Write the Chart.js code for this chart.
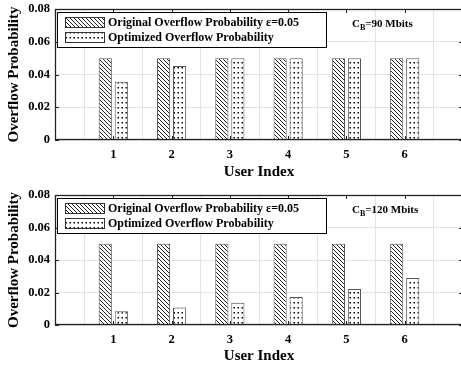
<!DOCTYPE html>
<html>
<head>
<meta charset="utf-8">
<script src="https://cdn.jsdelivr.net/npm/chart.js@4/dist/chart.umd.min.js"></script>
<style>
  html, body { margin: 0; padding: 0; background: #fff; overflow: hidden; }
  canvas { position: absolute; left: 0; }
  #top { top: 0; }
  #bottom { top: 180px; }
</style>
</head>
<body>
<canvas id="top" width="463" height="180"></canvas>
<canvas id="bottom" width="463" height="186"></canvas>
<script>
  // user index labels, blank ones pad the axis on both sides
  const users = ['', '1', '2', '3', '4', '5', '6', ''];
  const yTicks = [0, 0.02, 0.04, 0.06, 0.08];

  const original90 = [null, 0.05, 0.05, 0.05, 0.05, 0.05, 0.05, null];
  const optimized90 = [null, 0.0355, 0.0452, 0.05, 0.05, 0.05, 0.05, null];

  const original120 = [null, 0.05, 0.05, 0.05, 0.05, 0.05, 0.05, null];
  const optimized120 = [null, 0.0085, 0.0107, 0.0137, 0.0172, 0.0222, 0.029, null];

  const serif = "'Liberation Serif', 'Times New Roman', serif";

  function hatchPattern() {
    const c = document.createElement('canvas');
    c.width = 4; c.height = 4;
    const g = c.getContext('2d');
    g.fillStyle = '#fff';
    g.fillRect(0, 0, 4, 4);
    g.strokeStyle = '#222';
    g.lineWidth = 1;
    g.beginPath();
    g.moveTo(-1, -1); g.lineTo(5, 5);
    g.moveTo(-1, 3); g.lineTo(1, 5);
    g.moveTo(3, -1); g.lineTo(5, 1);
    g.stroke();
    return g.createPattern(c, 'repeat');
  }

  function dotPattern() {
    const c = document.createElement('canvas');
    c.width = 4; c.height = 5;
    const g = c.getContext('2d');
    g.fillStyle = '#fff';
    g.fillRect(0, 0, 4, 5);
    g.fillStyle = '#000';
    g.fillRect(1.5, 2, 1.5, 1.5);
    return g.createPattern(c, 'repeat');
  }

  const hatch = hatchPattern();
  const dots = dotPattern();

  // box, inward tick marks, legend and capacity note
  const framePlugin = {
    id: 'frame',
    afterDatasetsDraw(chart, args, opts) {
      const ctx = chart.ctx;
      const a = chart.chartArea;
      const xs = chart.scales.x, ys = chart.scales.y;
      ctx.save();
      ctx.strokeStyle = '#222';
      ctx.lineWidth = 1;
      ctx.beginPath();
      xs.ticks.forEach((t, i) => {
        const px = Math.round(xs.getPixelForTick(i)) + 0.5;
        ctx.moveTo(px, a.bottom); ctx.lineTo(px, a.bottom - 4);
        ctx.moveTo(px, a.top); ctx.lineTo(px, a.top + 4);
      });
      ys.ticks.forEach((t, i) => {
        const py = Math.round(ys.getPixelForTick(i)) + 0.5;
        ctx.moveTo(a.left, py); ctx.lineTo(a.left + 4, py);
        ctx.moveTo(a.right, py); ctx.lineTo(a.right - 4, py);
      });
      ctx.stroke();
      ctx.lineWidth = 1.3;
      ctx.strokeRect(a.left + 0.5, a.top + 0.5, a.right - a.left - 1, a.bottom - a.top - 1);

      // legend box
      const lx = a.left + 2, ly = a.top + 3;
      ctx.fillStyle = '#fff';
      ctx.fillRect(lx, ly, 269, 35);
      ctx.lineWidth = 1;
      ctx.strokeStyle = '#000';
      ctx.strokeRect(lx + 0.5, ly + 0.5, 269, 35);
      const items = [
        { text: 'Original Overflow Probability \u03b5=0.05', fill: hatch },
        { text: 'Optimized Overflow Probability', fill: dots }
      ];
      ctx.font = 'bold 12px ' + serif;
      ctx.textBaseline = 'middle';
      items.forEach((it, i) => {
        const y = ly + 5 + i * 15;
        ctx.fillStyle = it.fill;
        ctx.fillRect(lx + 8, y, 39, 10);
        ctx.strokeStyle = '#333';
        ctx.strokeRect(lx + 8.5, y + 0.5, 39, 10);
        ctx.fillStyle = '#000';
        ctx.fillText(it.text, lx + 51, y + 5.5);
      });

      // C_B note
      const nx = 352, ny = a.top + 15;
      ctx.font = 'bold 11px ' + serif;
      ctx.fillText('C', nx, ny);
      const cw = ctx.measureText('C').width;
      ctx.font = 'bold 8px ' + serif;
      ctx.fillText('B', nx + cw, ny + 4);
      const bw = ctx.measureText('B').width;
      ctx.font = 'bold 11px ' + serif;
      ctx.fillText(opts.note, nx + cw + bw, ny);
      ctx.restore();
    }
  };

  function makeChart(id, original, optimized, note, plotTop, axisHeight, titlePad) {
    const ctx = document.getElementById(id).getContext('2d');
    return new Chart(ctx, {
      type: 'bar',
      data: {
        labels: users,
        datasets: [
          {
            label: 'Original Overflow Probability \u03b5=0.05',
            data: original,
            backgroundColor: hatch,
            borderColor: '#555',
            borderWidth: 1,
            categoryPercentage: 0.55,
            barPercentage: 0.82
          },
          {
            label: 'Optimized Overflow Probability',
            data: optimized,
            backgroundColor: dots,
            borderColor: '#555',
            borderWidth: 1,
            categoryPercentage: 0.55,
            barPercentage: 0.82
          }
        ]
      },
      options: {
        responsive: false,
        animation: false,
        devicePixelRatio: 1,
        layout: { padding: { top: plotTop, left: 0, right: 0, bottom: 0 } },
        plugins: {
          legend: { display: false },
          tooltip: { enabled: false },
          frame: { note: note }
        },
        scales: {
          x: {
            offset: false,
            afterFit: s => {
              s.height = axisHeight;
              s.paddingLeft = 0; s.paddingRight = 0;
            },
            grid: { color: '#e4e4e4', drawTicks: false },
            border: { display: false },
            ticks: {
              color: '#000',
              padding: 7,
              maxRotation: 0,
              autoSkip: false,
              font: { family: serif, size: 12.5, weight: 'bold' }
            },
            title: {
              display: true,
              text: 'User Index',
              color: '#000',
              padding: { top: 0, bottom: titlePad },
              font: { family: serif, size: 15, weight: 'bold', lineHeight: 1.1 }
            }
          },
          y: {
            min: 0,
            max: 0.08,
            afterFit: s => {
              s.width = 55;
              s.paddingTop = 0; s.paddingBottom = 0;
            },
            afterBuildTicks: s => { s.ticks = yTicks.map(v => ({ value: v })); },
            grid: { color: '#e4e4e4', drawTicks: false },
            border: { display: false },
            ticks: {
              color: '#000',
              padding: 5,
              font: { family: serif, size: 12.5, weight: 'bold' },
              callback: v => v === 0 ? '0' : v.toFixed(2)
            },
            title: {
              display: true,
              text: 'Overflow Probability',
              color: '#000',
              padding: { top: 6, bottom: 0 },
              font: { family: serif, size: 15, weight: 'bold', lineHeight: 1.1 }
            }
          }
        }
      },
      plugins: [framePlugin]
    });
  }

  makeChart('top', original90, optimized90, '=90 Mbits', 9, 40, 0);
  makeChart('bottom', original120, optimized120, '=120 Mbits', 15, 41, 2);
</script>
</body>
</html>
